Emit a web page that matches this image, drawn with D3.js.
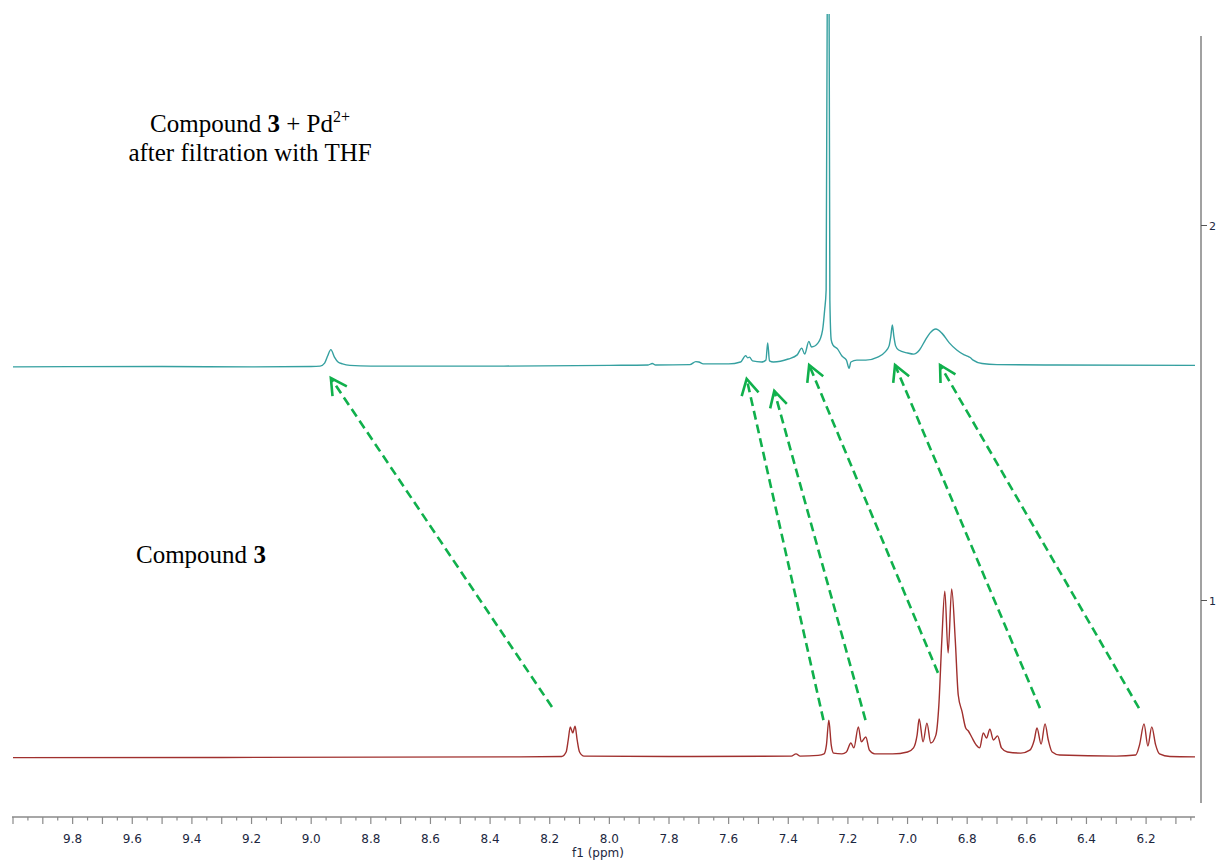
<!DOCTYPE html>
<html><head><meta charset="utf-8">
<script src="https://cdn.jsdelivr.net/npm/d3@7"></script>
<style>html,body{margin:0;padding:0;background:#fff;}svg{display:block;}</style>
</head><body>
<svg id="chart" width="1220" height="865"></svg>
<script>
// ---- data (ppm, intensity in right-axis units) ----
const redPpm = [10.0,8.30,8.16,8.145,8.138,8.131,8.123,8.115,8.108,8.100,8.085,7.80,7.39,7.374,7.36,7.30,7.28,7.272,7.264,7.256,7.248,7.22,7.205,7.19,7.18,7.165,7.155,7.14,7.128,7.11,7.05,7.00,6.98,6.968,6.961,6.948,6.935,6.922,6.905,6.895,6.885,6.875,6.864,6.852,6.84,6.83,6.817,6.805,6.796,6.785,6.77,6.758,6.746,6.735,6.724,6.712,6.698,6.685,6.665,6.62,6.59,6.575,6.566,6.552,6.539,6.528,6.515,6.49,6.30,6.235,6.222,6.207,6.194,6.181,6.168,6.155,6.12,6.036];
const redInt = [0.581,0.583,0.584,0.596,0.628,0.663,0.647,0.665,0.628,0.596,0.585,0.584,0.585,0.591,0.585,0.587,0.591,0.615,0.681,0.615,0.593,0.591,0.596,0.620,0.607,0.663,0.623,0.636,0.601,0.591,0.591,0.596,0.607,0.641,0.684,0.623,0.673,0.620,0.641,0.721,0.895,1.025,0.860,1.031,0.895,0.748,0.703,0.660,0.652,0.636,0.615,0.607,0.647,0.633,0.657,0.628,0.639,0.607,0.596,0.593,0.601,0.628,0.660,0.617,0.671,0.628,0.596,0.588,0.585,0.588,0.615,0.671,0.612,0.663,0.615,0.591,0.584,0.583];

const tealPpm = [10.0,9.5,9.2,9.0,8.97,8.955,8.945,8.934,8.922,8.91,8.895,8.87,8.80,8.40,8.00,7.87,7.856,7.845,7.73,7.71,7.70,7.685,7.60,7.56,7.543,7.536,7.53,7.52,7.49,7.475,7.469,7.463,7.45,7.40,7.37,7.355,7.345,7.331,7.322,7.30,7.285,7.278,7.273,7.2685,7.266,7.2635,7.2605,7.256,7.25,7.235,7.22,7.205,7.196,7.19,7.17,7.14,7.10,7.075,7.062,7.056,7.051,7.046,7.04,7.03,7.00,6.98,6.96,6.94,6.925,6.905,6.885,6.86,6.835,6.81,6.797,6.79,6.78,6.75,6.70,6.50,6.036];
const tealInt = [1.623,1.624,1.623,1.624,1.625,1.633,1.652,1.669,1.649,1.636,1.631,1.627,1.625,1.625,1.627,1.628,1.632,1.628,1.629,1.637,1.636,1.631,1.631,1.636,1.653,1.647,1.649,1.639,1.636,1.641,1.687,1.639,1.636,1.644,1.655,1.673,1.657,1.691,1.676,1.687,1.721,1.775,1.828,2.76,4.0,2.76,1.801,1.695,1.681,1.671,1.652,1.641,1.619,1.636,1.641,1.641,1.649,1.663,1.679,1.705,1.735,1.705,1.679,1.668,1.660,1.657,1.668,1.695,1.713,1.724,1.713,1.687,1.668,1.655,1.651,1.648,1.641,1.632,1.629,1.628,1.627];

// arrows: from lower-spectrum peak (tail) to upper-spectrum peak (head)
const arrowTailPpm = [8.1925,7.282,7.141,6.898,6.556,6.224];
const arrowTailInt = [0.716,0.681,0.681,0.807,0.713,0.713];
const arrowHeadPpm = [8.934,7.5396,7.447,7.330,7.042,6.891];
const arrowHeadInt = [1.593,1.591,1.559,1.628,1.628,1.628];

const xLabelTicks = [9.8,9.6,9.4,9.2,9.0,8.8,8.6,8.4,8.2,8.0,7.8,7.6,7.4,7.2,7.0,6.8,6.6,6.4,6.2];
const yTicks = [1,2];

// ---- scales ----
const svg = d3.select("#chart");
const x = d3.scaleLinear().domain([10.0, 6.036]).range([13, 1195]);
const y = d3.scaleLinear().domain([1, 2]).range([600.5, 225.5]);

svg.append("defs").append("clipPath").attr("id","clip")
  .append("rect").attr("x",10).attr("y",14).attr("width",1188).attr("height",800);

const line = d3.line().x(d=>x(d[0])).y(d=>y(d[1])).curve(d3.curveMonotoneX);

const g = svg.append("g").attr("clip-path","url(#clip)");
g.append("path").datum(redPpm.map((p,i)=>[p,redInt[i]]))
  .attr("d",line).attr("fill","none").attr("stroke","#a0302e").attr("stroke-width",1.4);
g.append("path").datum(tealPpm.map((p,i)=>[p,tealInt[i]]))
  .attr("d",line).attr("fill","none").attr("stroke","#35a0a0").attr("stroke-width",1.4);

// ---- bottom axis ----
const axisY = 817;
const ax = svg.append("g");
ax.append("line").attr("x1",12).attr("x2",1195).attr("y1",axisY).attr("y2",axisY)
  .attr("stroke","#8a8a8a").attr("stroke-width",1.6);
const allTicks = d3.range(0, 80).map(i => +(10.0 - i*0.05).toFixed(2)).filter(v => v >= 6.04);
ax.selectAll("line.t").data(allTicks).enter().append("line")
  .attr("x1",d=>x(d)).attr("x2",d=>x(d))
  .attr("y1",axisY).attr("y2",d=> Math.abs(Math.round(d*10) - d*10) < 1e-6 ? axisY+7 : axisY+3.5)
  .attr("stroke","#8a8a8a").attr("stroke-width",1.2);
ax.selectAll("text.l").data(xLabelTicks).enter().append("text")
  .attr("x",d=>x(d)).attr("y",843).attr("text-anchor","middle")
  .attr("font-family","DejaVu Sans, Verdana, sans-serif").attr("font-size",12)
  .attr("fill","#1c2740").text(d=>d.toFixed(1));
ax.append("text").attr("x",598).attr("y",857).attr("text-anchor","middle")
  .attr("font-family","DejaVu Sans, Verdana, sans-serif").attr("font-size",12)
  .attr("fill","#1c2740").text("f1 (ppm)");

// ---- right axis ----
const rx = 1201;
svg.append("line").attr("x1",rx).attr("x2",rx).attr("y1",36).attr("y2",803)
  .attr("stroke","#8a8a8a").attr("stroke-width",1.6);
svg.selectAll("line.yt").data(yTicks).enter().append("line")
  .attr("x1",rx).attr("x2",rx+6).attr("y1",d=>y(d)).attr("y2",d=>y(d))
  .attr("stroke","#555").attr("stroke-width",1);
svg.selectAll("text.yl").data(yTicks).enter().append("text")
  .attr("x",rx+8).attr("y",d=>y(d)+4).attr("font-family","DejaVu Sans, Verdana, sans-serif")
  .attr("font-size",11).attr("fill","#1c2740").text(d=>d);

// ---- arrows ----
const arrows = arrowTailPpm.map((p,i)=>({x1:x(p),y1:y(arrowTailInt[i]),x2:x(arrowHeadPpm[i]),y2:y(arrowHeadInt[i])}));
const green = "#10b04c";
const ag = svg.append("g");
arrows.forEach(a=>{
  ag.append("line").attr("x1",a.x1).attr("y1",a.y1).attr("x2",a.x2).attr("y2",a.y2)
    .attr("stroke",green).attr("stroke-width",2.6).attr("stroke-dasharray","9,5");
  const ang = Math.atan2(a.y1-a.y2, a.x1-a.x2);
  const L = 18, h = 0.5;
  const p1 = [a.x2 + L*Math.cos(ang+h), a.y2 + L*Math.sin(ang+h)];
  const p2 = [a.x2 + L*Math.cos(ang-h), a.y2 + L*Math.sin(ang-h)];
  ag.append("path").attr("d",`M${p1[0]},${p1[1]}L${a.x2},${a.y2}L${p2[0]},${p2[1]}`)
    .attr("fill","none").attr("stroke",green).attr("stroke-width",2.6);
});

// ---- labels ----
const serif = "Liberation Serif, Times New Roman, serif";
const t1 = svg.append("text").attr("x",250).attr("y",132).attr("text-anchor","middle")
  .attr("font-family",serif).attr("font-size",25).attr("fill","#000");
t1.append("tspan").text("Compound ");
t1.append("tspan").attr("font-weight","bold").text("3");
t1.append("tspan").text(" + Pd");
t1.append("tspan").attr("font-size",16).attr("dy",-10).text("2+");
svg.append("text").attr("x",250).attr("y",161).attr("text-anchor","middle")
  .attr("font-family",serif).attr("font-size",25).attr("fill","#000").text("after filtration with THF");
const t3 = svg.append("text").attr("x",136).attr("y",563)
  .attr("font-family",serif).attr("font-size",25).attr("fill","#000");
t3.append("tspan").text("Compound ");
t3.append("tspan").attr("font-weight","bold").text("3");
</script>
</body></html>
